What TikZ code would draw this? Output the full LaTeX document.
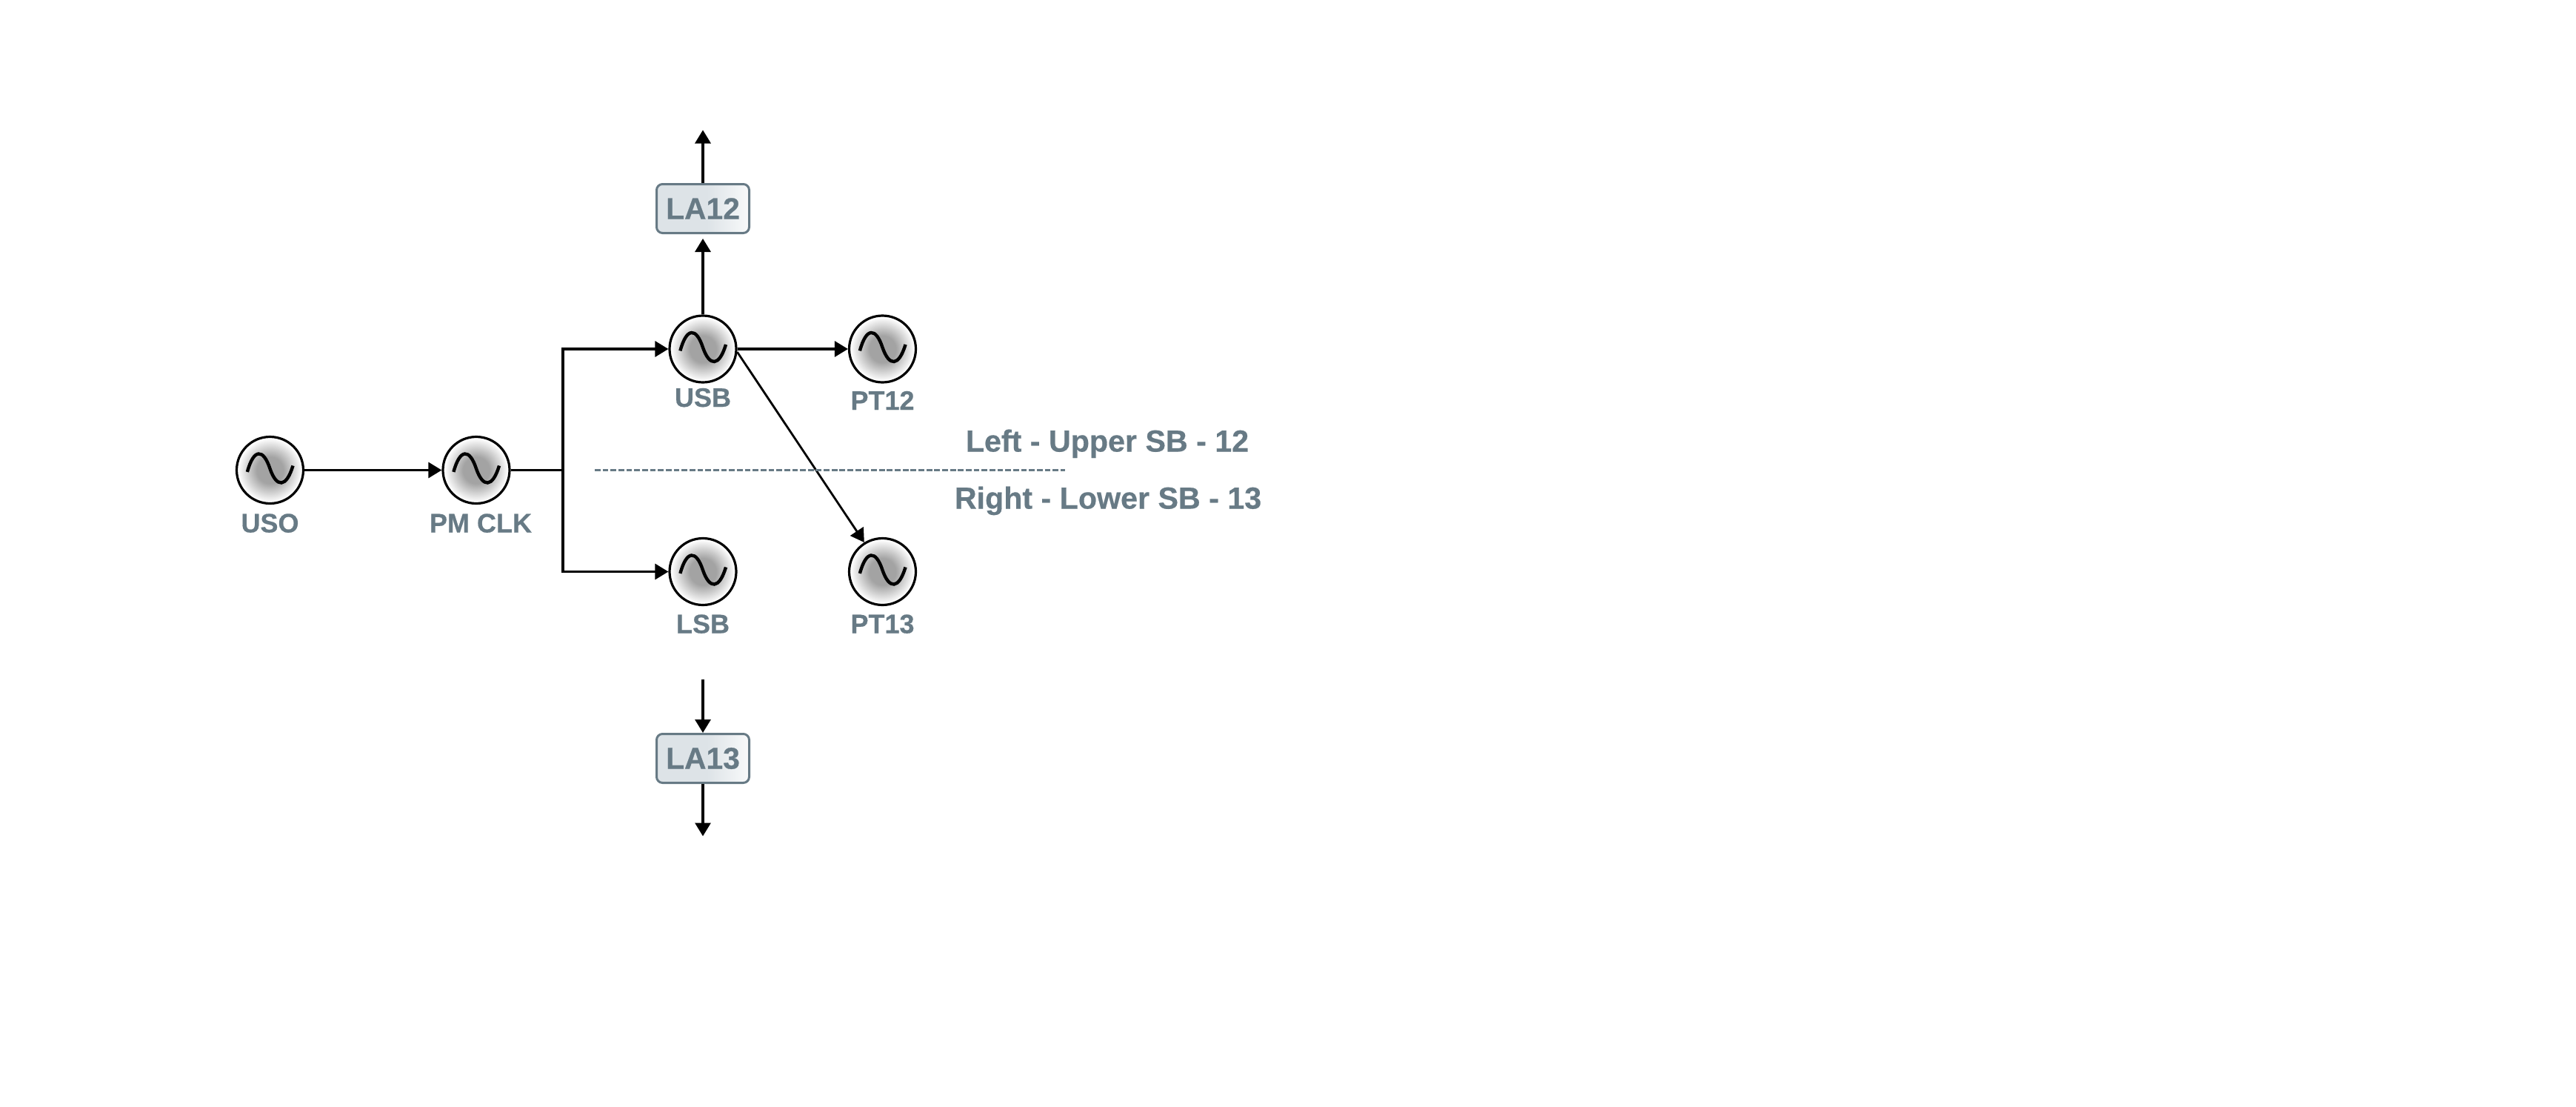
\documentclass[tikz,border=0pt]{standalone}
\usepackage{fontspec}
\setmainfont[BoldFeatures={FakeBold=0.5}]{Liberation Sans}
\usetikzlibrary{positioning, arrows.meta}
\definecolor{slate}{HTML}{677A85}
\definecolor{bandfill}{HTML}{DDE3E7}
\pgfdeclareradialshading{oscshade}{\pgfpoint{0bp}{0bp}}{
	color(0bp)=(black!36); color(10bp)=(black!36); color(24bp)=(white); color(50bp)=(white)
}
\pgfdeclarehorizontalshading{bandshade}{100bp}{
	color(0bp)=(bandfill); color(52bp)=(bandfill); color(75bp)=(white!80!bandfill); color(100bp)=(white)
}
\tikzset{
	edge/.style={line width=1.6pt, -{Triangle[length=9pt, width=10.5pt]}},
	plain edge/.style={line width=1.6pt},
	osc nodes/.style={
		circle,
		draw=black,
		line width=1.6pt,
		shading=oscshade,
		minimum size=45pt,
		inner sep=0pt
	},
	osc wave/.style={line width=2.2pt},
	osc text/.style={
		text=slate,
		font=\bfseries\fontsize{18}{20}\selectfont,
		inner sep=0pt,
		outer sep=0pt
	},
	band text/.style={osc text, anchor=base, font=\bfseries\fontsize{20.6}{22}\selectfont},
	la nodes/.style={
		rectangle,
		draw=slate,
		line width=1.5pt,
		rounded corners=4pt,
		shading=bandshade,
		text=slate,
		font=\bfseries\fontsize{20.4}{22}\selectfont,
		minimum width=62.5pt,
		minimum height=33pt,
		inner sep=0pt
	}
}
\newcommand{\oscnode}[5]{% node name, label, options for node, label x shift, label drop
	\node (#1) [osc nodes, #3] {};
	\draw[osc wave, shift={(#1.center)}] (-15.3pt,-1.2pt) .. controls (-11pt,14.7pt) and (-4.5pt,14.7pt) .. (0pt,1pt)
		.. controls (4.5pt,-12pt) and (11pt,-12pt) .. (15.5pt,3pt);
	\node (#1-text) [osc text, below=#5 of #1, xshift=#4, anchor=base] {#2}
}

\begin{document}
\begin{tikzpicture}[on grid]
			\useasboundingbox (0pt,0pt) rectangle (1739pt,-746.5pt);
			\oscnode{uso}{USO}{at={(182.25pt,-317.25pt)}}{0pt}{42pt};

			\oscnode{pmclk}{PM CLK}{right=139.25pt of uso}{3pt}{42pt};
			\draw[edge] (uso.east) -- (pmclk.west);

			\oscnode{usb}{USB}{above right=81.75pt and 153pt of pmclk}{0pt}{39pt};
			\oscnode{lsb}{LSB}{below right=68.5pt and 153pt of pmclk}{0pt}{41.5pt};
			\oscnode{pt12}{PT12}{right=121.25pt of usb}{0pt}{41pt};
			\oscnode{pt13}{PT13}{right=121.25pt of lsb}{0pt}{41.5pt};

			\coordinate[right=58.5pt of pmclk] (branch);
			\draw[plain edge] (pmclk.east) -- (branch);
			\draw[edge] (branch) |- (usb.west);
			\draw[edge] (branch) |- (lsb.west);
			\draw[edge] (usb.east) -- (pt12.west);
			\draw[edge, line width=1.4pt] (usb.-5) -- (pt13.122);

			\node (la12) [la nodes, above=94.75pt of usb] {LA12};
			\coordinate[above=53pt of la12] (la12out);
			\draw[edge, shorten >=3pt] (usb.north) -- (la12.south);
			\draw[edge] (la12.north) -- (la12out);

			\node (la13) [la nodes, below=126pt of lsb] {LA13};
			\coordinate[above=53.5pt of la13] (la13in);
			\coordinate[below=52.5pt of la13] (la13out);
			\draw[edge] (la13in) -- (la13.north);
			\draw[edge] (la13.south) -- (la13out);

			\coordinate[right=80pt of pmclk] (bandl);
			\coordinate[right=397.5pt of pmclk] (bandr);
			\draw[slate, line width=1.9pt, dash pattern=on 3.9pt off 1.43pt] (bandl) -- (bandr);

			\node (bandup) [band text] at (747.5pt,-304.75pt) {Left - Upper SB - 12};
			\node (banddown) [band text] at (748pt,-343.25pt) {Right - Lower SB - 13};
		\end{tikzpicture}
\end{document}
